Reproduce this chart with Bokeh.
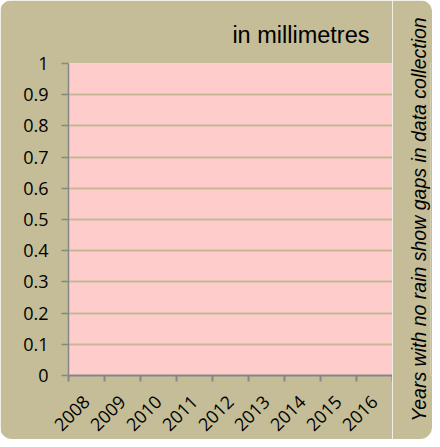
import math
from bokeh.plotting import figure
from bokeh.layouts import row
from bokeh.models import Range1d, FixedTicker, ColumnDataSource, Title
from bokeh.embed import file_html
from bokeh.resources import INLINE

# ---- data ----
years = ["2008", "2009", "2010", "2011", "2012", "2013", "2014", "2015", "2016"]
rain_mm = []          # no rainfall values recorded in the chart
y_ticks = [0, 0.1, 0.2, 0.3, 0.4, 0.5, 0.6, 0.7, 0.8, 0.9, 1]
y_labels = ["0", "0.1", "0.2", "0.3", "0.4", "0.5", "0.6", "0.7", "0.8", "0.9", "1"]
title_text = "in millimetres"
note_text = "Years with no rain show gaps in data collection"

TAN = "#c4bd97"
PINK = "#ffcccc"
GRID = "#c6b893"
AXIS = "#868686"

n = len(years)
H = 439
p = figure(width=392, height=H, output_backend="svg", toolbar_location=None,
           x_range=Range1d(0, n), y_range=Range1d(0, 1),
           min_border_left=68, min_border_right=0, min_border_top=63, min_border_bottom=63)

p.border_fill_color = TAN
p.background_fill_color = PINK
p.outline_line_color = None

# empty series (no rainfall data in the chart)
src = ColumnDataSource(dict(x=[i + 0.5 for i in range(len(rain_mm))], top=rain_mm))
p.vbar(x="x", top="top", width=0.6, source=src, fill_color="#4f81bd", line_color=None)

# title
p.title.text = title_text
p.title.align = "right"
p.title.text_font = "Liberation Sans"
p.title.text_font_size = "23.5px"
p.title.text_font_style = "normal"
p.title.text_color = "#000000"
p.title.offset = 23
p.title.standoff = 32

# x axis: labels at category centres, tick marks between categories
centers = [i + 0.5 for i in range(n)]
bounds = list(range(n + 1))
xa = p.xaxis[0]
xa.ticker = FixedTicker(ticks=centers, minor_ticks=bounds)
xa.major_label_overrides = {c: y for c, y in zip(centers, years)}
xa.major_label_orientation = math.pi / 4
xa.major_tick_in = 0
xa.major_tick_out = 0
xa.minor_tick_in = 0
xa.minor_tick_out = 6
xa.minor_tick_line_color = AXIS
xa.minor_tick_line_width = 2
xa.axis_line_color = AXIS
xa.axis_line_width = 2
xa.major_label_text_font = "Open Sans"
xa.major_label_text_font_size = "18px"
xa.major_label_text_color = "#000000"
xa.major_label_standoff = 17

# y axis
ya = p.yaxis[0]
ya.ticker = FixedTicker(ticks=y_ticks, minor_ticks=[])
ya.major_label_overrides = {t: l for t, l in zip(y_ticks, y_labels)}
ya.major_tick_in = 0
ya.major_tick_out = 7
ya.major_tick_line_color = AXIS
ya.major_tick_line_width = 1.5
ya.minor_tick_line_color = None
ya.axis_line_color = AXIS
ya.axis_line_width = 1.5
ya.major_label_text_font = "Open Sans"
ya.major_label_text_font_size = "18px"
ya.major_label_text_color = "#000000"
ya.major_label_standoff = 13

# grid
p.xgrid.grid_line_color = None
p.ygrid.grid_line_color = GRID
p.ygrid.grid_line_width = 2

# narrow side strip carrying the upward-reading note as a left-side title
W2 = 40
p2 = figure(width=W2, height=H, output_backend="svg", toolbar_location=None,
            x_range=Range1d(0, 1), y_range=Range1d(0, 1),
            x_axis_location=None, y_axis_location=None,
            min_border_left=38, min_border_right=0, min_border_top=0, min_border_bottom=0)
p2.background_fill_color = TAN
p2.border_fill_color = TAN
p2.outline_line_color = None
p2.xgrid.grid_line_color = None
p2.ygrid.grid_line_color = None
note = Title(text=note_text, align="center", standoff=1,
             text_font="Liberation Sans", text_font_style="italic",
             text_font_size="19.5px", text_color="#000000")
p2.add_layout(note, "left")

layout = row(p, p2, spacing=0, styles={"border-radius": "12px", "overflow": "hidden"})

open("out.html", "w").write(file_html(layout, INLINE))
